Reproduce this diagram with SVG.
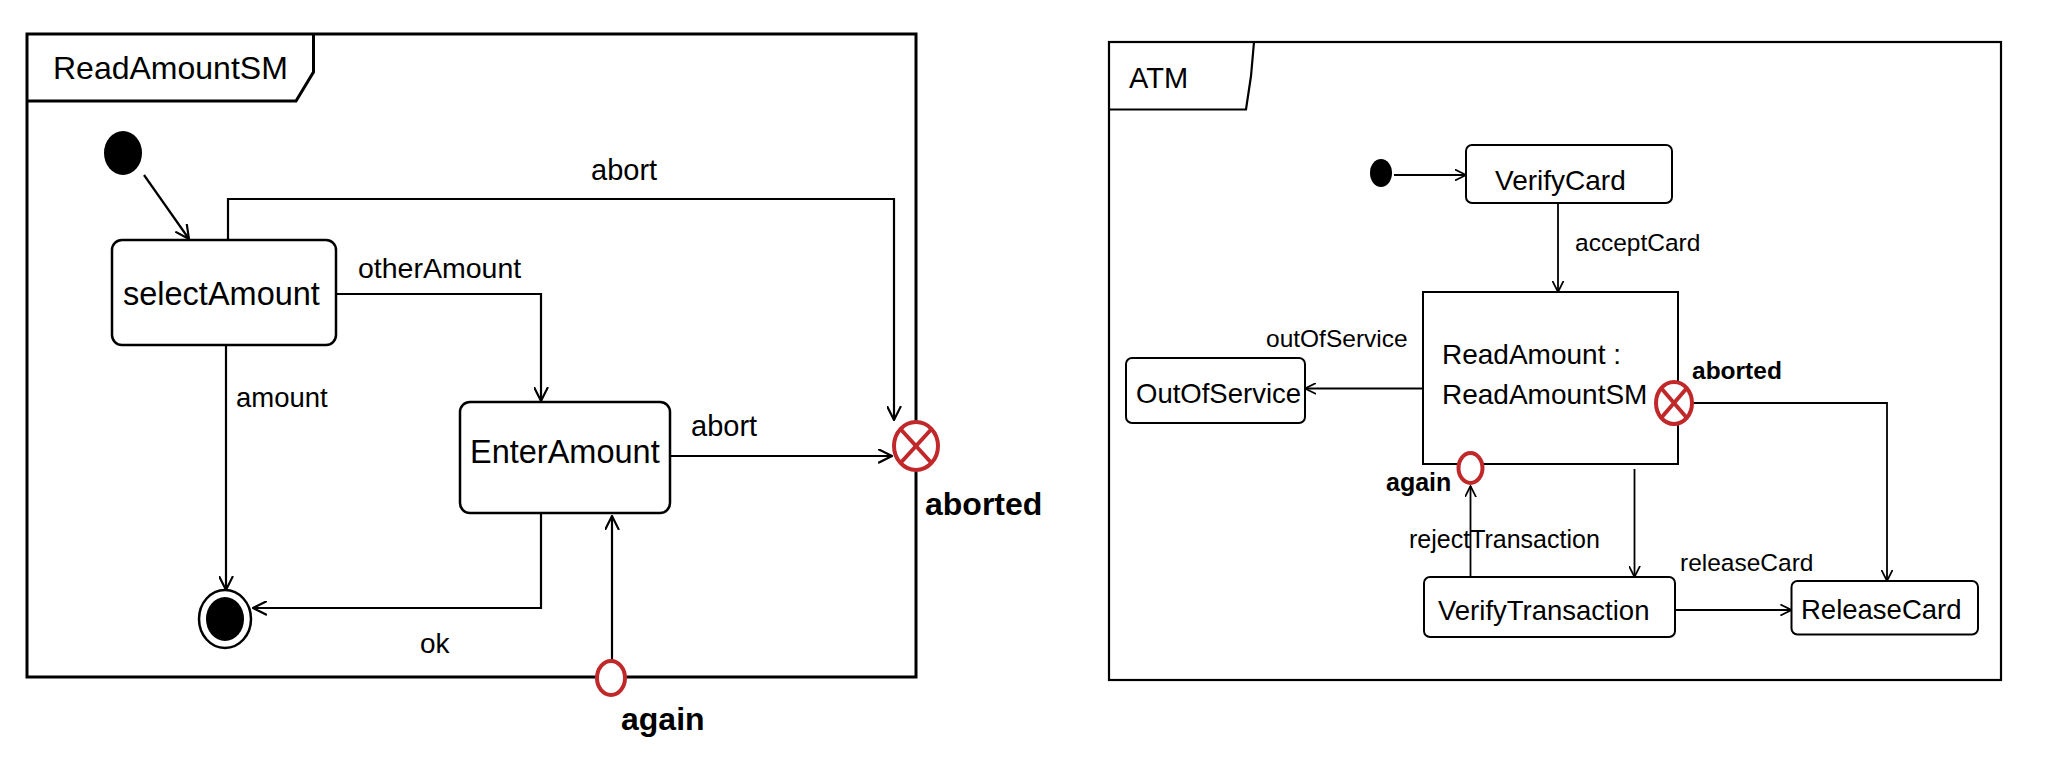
<svg xmlns="http://www.w3.org/2000/svg" width="2046" height="774" viewBox="0 0 2046 774">
<style>
.frameL{fill:none;stroke:#000;stroke-width:3}
.frameR{fill:none;stroke:#000;stroke-width:2.2}
.st{fill:#fff;stroke:#000;stroke-width:2.5}
.stR{fill:#fff;stroke:#000;stroke-width:2}
.cn{fill:none;stroke:#000;stroke-width:2.2}
.cnR{fill:none;stroke:#000;stroke-width:1.8}
.pt{fill:#fff;stroke:#c0282a;stroke-width:4}
.x{stroke:#c0282a;stroke-width:4}
.t{font-family:"Liberation Sans",Arial,sans-serif;fill:#000}
.b{font-family:"Liberation Sans",Arial,sans-serif;font-weight:bold;fill:#000}
</style>
<defs>
<marker id="aL" viewBox="0 0 14 14" refX="13" refY="7" markerWidth="15" markerHeight="15" markerUnits="userSpaceOnUse" orient="auto"><path d="M0,0.5 L13,7 L0,13.5" fill="none" stroke="#000" stroke-width="2"/></marker>
<marker id="aR" viewBox="0 0 14 14" refX="13" refY="7" markerWidth="12" markerHeight="12" markerUnits="userSpaceOnUse" orient="auto"><path d="M0,0.5 L13,7 L0,13.5" fill="none" stroke="#000" stroke-width="2"/></marker>
</defs>
<rect width="2046" height="774" fill="#fff"/>

<!-- Left diagram: ReadAmountSM -->
<g id="frame-ReadAmountSM">
<rect class="frameL" x="27" y="34" width="889" height="643"/>
<path class="frameL" d="M27,101 L296,101 L313.5,72 L313.5,34"/>
<text class="t" x="53" y="79" font-size="32">ReadAmountSM</text>
</g>

<g id="connectors-left">
<path class="cn" d="M144,175 L189,239" marker-end="url(#aL)"/>
<path class="cn" d="M228,240 L228,199 L894,199 L894,420" marker-end="url(#aL)"/>
<path class="cn" d="M335,294 L541,294 L541,401" marker-end="url(#aL)"/>
<path class="cn" d="M226,345 L226,590" marker-end="url(#aL)"/>
<path class="cn" d="M670,456 L892,456" marker-end="url(#aL)"/>
<path class="cn" d="M541,513 L541,608 L253,608" marker-end="url(#aL)"/>
<path class="cn" d="M612,660 L612,516" marker-end="url(#aL)"/>
<text class="t" x="591" y="180" font-size="29">abort</text>
<text class="t" x="358" y="278" font-size="28.5">otherAmount</text>
<text class="t" x="236" y="407" font-size="27.5">amount</text>
<text class="t" x="691" y="436" font-size="29">abort</text>
<text class="t" x="420" y="653" font-size="28">ok</text>
</g>

<g id="initial-left">
<ellipse cx="123" cy="153" rx="19" ry="22" fill="#000"/>
</g>
<g id="selectAmount">
<rect class="st" x="112" y="240" width="224" height="105" rx="10"/>
<text class="t" x="123" y="305" font-size="32.5">selectAmount</text>
</g>
<g id="EnterAmount">
<rect class="st" x="460" y="402" width="210" height="111" rx="10"/>
<text class="t" x="470" y="463" font-size="32.5">EnterAmount</text>
</g>
<g id="final-left">
<ellipse cx="225" cy="619" rx="26" ry="29" fill="#fff" stroke="#000" stroke-width="2.5"/>
<ellipse cx="225" cy="619" rx="19" ry="22" fill="#000"/>
</g>
<g id="aborted-left">
<ellipse class="pt" cx="916" cy="446" rx="22" ry="24"/>
<line class="x" x1="900.5" y1="429" x2="931.5" y2="463"/>
<line class="x" x1="931.5" y1="429" x2="900.5" y2="463"/>
<text class="b" x="925" y="515" font-size="32">aborted</text>
</g>
<g id="again-left">
<ellipse class="pt" cx="611" cy="678" rx="14" ry="17"/>
<text class="b" x="621" y="730" font-size="32">again</text>
</g>

<!-- Right diagram: ATM -->
<g id="frame-ATM">
<rect class="frameR" x="1109" y="42" width="892" height="638"/>
<path class="frameR" d="M1109,109.5 L1246,109.5 L1251,76 L1254,42"/>
<text class="t" x="1129" y="88" font-size="29">ATM</text>
</g>

<g id="connectors-right">
<path class="cnR" d="M1394,175 L1466,175" marker-end="url(#aR)"/>
<path class="cnR" d="M1558,203 L1558,292" marker-end="url(#aR)"/>
<path class="cnR" d="M1423,388.5 L1305,388.5" marker-end="url(#aR)"/>
<path class="cnR" d="M1693,403 L1887,403 L1887,581" marker-end="url(#aR)"/>
<path class="cnR" d="M1470.5,577 L1470.5,486" marker-end="url(#aR)"/>
<path class="cnR" d="M1634.5,469 L1634.5,577" marker-end="url(#aR)"/>
<path class="cnR" d="M1675,610 L1791.5,610" marker-end="url(#aR)"/>
<text class="t" x="1575" y="251" font-size="24.5">acceptCard</text>
<text class="t" x="1266" y="347" font-size="24.5">outOfService</text>
<text class="t" x="1409" y="548" font-size="25">rejectTransaction</text>
<text class="t" x="1680" y="571" font-size="24.5">releaseCard</text>
</g>

<g id="initial-right">
<ellipse cx="1381" cy="173" rx="11" ry="14" fill="#000"/>
</g>
<g id="VerifyCard">
<rect class="stR" x="1466" y="145" width="206" height="58" rx="6"/>
<text class="t" x="1495" y="190" font-size="28">VerifyCard</text>
</g>
<g id="ReadAmount">
<rect class="stR" x="1423" y="292" width="255" height="172"/>
<text class="t" x="1442" y="364" font-size="28">ReadAmount :</text>
<text class="t" x="1442" y="404" font-size="28">ReadAmountSM</text>
</g>
<g id="OutOfService">
<rect class="stR" x="1126" y="358" width="179" height="65" rx="6"/>
<text class="t" x="1136" y="403" font-size="27.5">OutOfService</text>
</g>
<g id="VerifyTransaction">
<rect class="stR" x="1424" y="577" width="251" height="60" rx="6"/>
<text class="t" x="1438" y="620" font-size="27.5">VerifyTransaction</text>
</g>
<g id="ReleaseCard">
<rect class="stR" x="1791.5" y="581" width="186.5" height="53.5" rx="6"/>
<text class="t" x="1801" y="619" font-size="27.5">ReleaseCard</text>
</g>
<g id="aborted-right">
<ellipse class="pt" cx="1674" cy="403" rx="18" ry="21" stroke-width="3.5"/>
<line class="x" x1="1661.5" y1="388.5" x2="1686.5" y2="417.5" stroke-width="3.5"/>
<line class="x" x1="1686.5" y1="388.5" x2="1661.5" y2="417.5" stroke-width="3.5"/>
<text class="b" x="1692" y="378.5" font-size="24.5">aborted</text>
</g>
<g id="again-right">
<ellipse class="pt" cx="1470.5" cy="468" rx="12" ry="15" stroke-width="3.5"/>
<text class="b" x="1386" y="490.5" font-size="25">again</text>
</g>
</svg>
